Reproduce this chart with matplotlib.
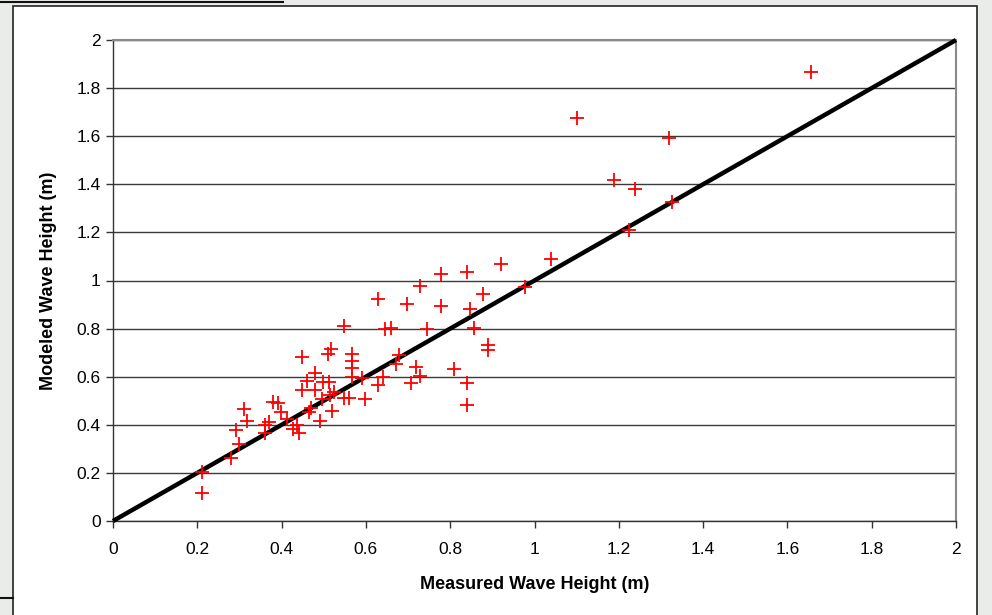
import matplotlib.pyplot as plt
from matplotlib.patches import Rectangle
from matplotlib.lines import Line2D

plt.rcParams['font.family'] = ['Liberation Sans', 'DejaVu Sans']

measured = [0.210, 0.210, 0.279, 0.299, 0.292, 0.319, 0.310, 0.361, 0.361, 0.369,
            0.379, 0.391, 0.399, 0.412, 0.428, 0.437, 0.441, 0.449, 0.469, 0.466,
            0.479, 0.460, 0.448, 0.479, 0.491, 0.495, 0.499, 0.513, 0.519, 0.515,
            0.525, 0.509, 0.518, 0.549, 0.561, 0.567, 0.567, 0.567, 0.567, 0.548,
            0.590, 0.598, 0.629, 0.640, 0.629, 0.646, 0.660, 0.671, 0.679, 0.698,
            0.708, 0.720, 0.728, 0.728, 0.746, 0.778, 0.778, 0.809, 0.839, 0.839,
            0.839, 0.847, 0.857, 0.878, 0.890, 0.890, 0.920, 0.977, 1.038, 1.100,
            1.189, 1.225, 1.238, 1.319, 1.326, 1.656]
modeled = [0.205, 0.118, 0.263, 0.319, 0.378, 0.417, 0.467, 0.367, 0.400, 0.412,
           0.496, 0.492, 0.454, 0.423, 0.381, 0.398, 0.367, 0.681, 0.469, 0.453,
           0.617, 0.583, 0.545, 0.545, 0.417, 0.506, 0.579, 0.579, 0.457, 0.524,
           0.538, 0.694, 0.715, 0.513, 0.513, 0.694, 0.665, 0.635, 0.600, 0.811,
           0.593, 0.506, 0.565, 0.600, 0.922, 0.798, 0.804, 0.652, 0.690, 0.902,
           0.572, 0.642, 0.603, 0.978, 0.797, 0.895, 1.026, 0.631, 0.572, 0.482,
           1.037, 0.880, 0.804, 0.943, 0.732, 0.711, 1.069, 0.972, 1.089, 1.677,
           1.418, 1.210, 1.382, 1.594, 1.328, 1.867]
one_to_one = [0, 2]
ticks = [0, 0.2, 0.4, 0.6, 0.8, 1, 1.2, 1.4, 1.6, 1.8, 2]
tick_labels = ['0', '0.2', '0.4', '0.6', '0.8', '1', '1.2', '1.4', '1.6', '1.8', '2']

fig = plt.figure(figsize=(9.92, 6.15), dpi=100, facecolor='#e9ece9')
# white chart panel with its frame
fig.add_artist(Rectangle((13 / 992, -0.01), (977 - 13) / 992, 1 - 6 / 615 + 0.01,
                         transform=fig.transFigure, facecolor='white',
                         edgecolor='#222222', lw=1.2, zorder=0))
fig.add_artist(Line2D([0, 283 / 992], [1 - 1.5 / 615] * 2, transform=fig.transFigure,
                      color='#111111', lw=1.5))
fig.add_artist(Line2D([0, 13 / 992], [1 - 598 / 615] * 2, transform=fig.transFigure,
                      color='#111111', lw=1.5))

ax = fig.add_axes([113 / 992, 94 / 615, 843 / 992, 481 / 615])
ax.set_facecolor('white')

ax.plot(one_to_one, one_to_one, color='black', lw=3.2, zorder=3,
        solid_capstyle='butt', clip_on=False)
ax.plot(measured, modeled, linestyle='none', marker='+', color='#ff0000',
        markersize=10, mew=1.3, zorder=4)

ax.set_xlim(0, 2)
ax.set_ylim(0, 2)
ax.set_xticks(ticks)
ax.set_xticklabels(tick_labels)
ax.set_yticks(ticks)
ax.set_yticklabels(tick_labels)
ax.yaxis.grid(True, color='#3a3a3a', lw=1)
ax.set_axisbelow(True)
ax.tick_params(direction='out', length=5, width=1, colors='#333333',
               labelcolor='black', labelsize=12.5, pad=4)
ax.tick_params(axis='x', pad=10)

for side in ['left', 'bottom']:
    ax.spines[side].set_color('#333333')
    ax.spines[side].set_linewidth(1)
for side in ['top', 'right']:
    ax.spines[side].set_color('#8a8a8a')
    ax.spines[side].set_linewidth(1.5)

ax.set_xlabel('Measured Wave Height (m)', fontsize=13, fontweight='bold', labelpad=14)
ax.set_ylabel('Modeled Wave Height (m)', fontsize=13, fontweight='bold', labelpad=14)

fig.savefig('out.png', dpi=100, facecolor=fig.get_facecolor())
